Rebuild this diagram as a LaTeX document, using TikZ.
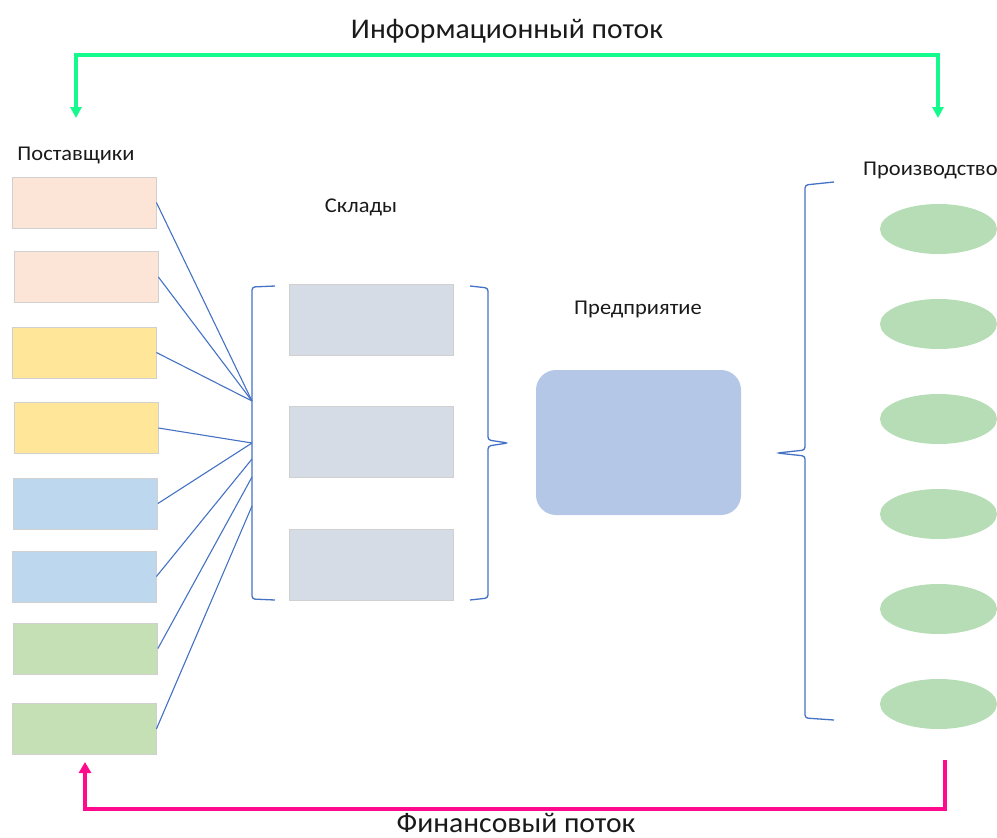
\documentclass[tikz,border=0pt]{standalone}
\usepackage{fontspec}
\setmainfont{Carlito}
\newfontfamily\lblfont[FakeStretch=1.07]{Carlito}
\newfontfamily\bigfont[FakeStretch=1.04]{Carlito}
\usetikzlibrary{arrows.meta,shapes.geometric}
\definecolor{peach}{HTML}{FCE4D6}
\definecolor{yel}{HTML}{FFE699}
\definecolor{lblue}{HTML}{BDD7EE}
\definecolor{lgreen}{HTML}{C5E0B4}
\definecolor{wgray}{HTML}{D6DCE5}
\definecolor{ent}{HTML}{B4C7E7}
\definecolor{prod}{HTML}{B6DDB6}
\definecolor{edge}{HTML}{D0D0D0}
\definecolor{lineblue}{HTML}{4472C4}
\definecolor{infog}{HTML}{14FA8C}
\definecolor{finp}{HTML}{FF0A8C}
\definecolor{txt}{HTML}{1A1A1A}
\tikzset{
  supbox/.style={draw=edge,line width=0.8pt,minimum width=144pt,minimum height=51pt,inner sep=0pt},
  whbox/.style={draw=edge,line width=0.8pt,fill=wgray,minimum width=164pt,minimum height=71pt,inner sep=0pt},
  entbox/.style={fill=ent,rounded corners=20pt,minimum width=205pt,minimum height=145pt,inner sep=0pt},
  prodell/.style={ellipse,fill=prod,minimum width=117pt,minimum height=50pt,inner sep=0pt},
  link/.style={draw=lineblue,line width=1.1pt},
  brace/.style={draw=lineblue,line width=1.3pt,rounded corners=3pt},
  lbl/.style={text=txt,font=\lblfont\fontsize{21}{24}\selectfont,inner sep=0pt,anchor=base},
  big/.style={text=txt,font=\bigfont\fontsize{28.5}{32}\selectfont,inner sep=0pt,anchor=base},
  flow/.style={line width=4pt,line join=miter}
}
\begin{document}
\begin{tikzpicture}[x=1pt,y=-1pt]
\useasboundingbox (0,0) rectangle (997,838);
% titles
\node[big] (info) at (507,38) {Информационный поток};
\node[big] (fin) at (516,832) {Финансовый поток};
% labels
\node[lbl] (lsup) at (76,160) {Поставщики};
\node[lbl] (lwh) at (361,212) {Склады};
\node[lbl] (lent) at (638,314) {Предприятие};
\node[lbl,anchor=base west] (lprod) at (863,175) {Производство};
% suppliers
\node[supbox,fill=peach] (s1) at (84,202.5) {};
\node[supbox,fill=peach] (s2) at (86,277) {};
\node[supbox,fill=yel] (s3) at (84,352.5) {};
\node[supbox,fill=yel] (s4) at (86,428) {};
\node[supbox,fill=lblue] (s5) at (85.5,503.5) {};
\node[supbox,fill=lblue] (s6) at (84,576.5) {};
\node[supbox,fill=lgreen] (s7) at (85.5,648.5) {};
\node[supbox,fill=lgreen] (s8) at (84,729) {};
% warehouses
\node[whbox] (w1) at (371,320) {};
\node[whbox] (w2) at (371,442) {};
\node[whbox] (w3) at (371,565) {};
% enterprise
\node[entbox] (e) at (638.5,442.5) {};
% production
\node[prodell] (p1) at (938.5,229) {};
\node[prodell] (p2) at (938.5,324) {};
\node[prodell] (p3) at (938.5,419) {};
\node[prodell] (p4) at (938.5,514) {};
\node[prodell] (p5) at (938.5,609) {};
\node[prodell] (p6) at (938.5,704) {};
% bracket points
\coordinate (j1) at (252,401);
\coordinate (j2) at (252,443);
\coordinate (j3) at (252,459);
\coordinate (j4) at (252,477);
\coordinate (j5) at (252,506);
% left bracket of warehouses
\draw[brace] (275,286) -- (252,287) -- (252,599) -- (275,600);
% right brace of warehouses
\draw[brace] (470,286) -- (488,288) -- (488,440) -- (508,443) -- (488,446) -- (488,598) -- (470,600);
% production brace
\draw[brace] (834,182) -- (805,185) -- (805,450) -- (777,453) -- (805,456) -- (805,718) -- (834,720);
% links
\draw[link] (s1.east) -- (j1);
\draw[link] (s2.east) -- (j1);
\draw[link] (s3.east) -- (j1);
\draw[link] (s4.east) -- (j2);
\draw[link] (s5.east) -- (j2);
\draw[link] (s6.east) -- (j3);
\draw[link] (s7.east) -- (j4);
\draw[link] (s8.east) -- (j5);
% information flow
\coordinate (ga) at (76,118);
\coordinate (gb) at (938,118);
\coordinate (gtop) at (0,55);
\draw[flow,draw=infog,{Triangle[width=11pt,length=11pt]}-{Triangle[width=11pt,length=11pt]}] (ga) -- (ga|-gtop) -- (gb|-gtop) -- (gb);
% financial flow
\coordinate (fa) at (945,760);
\coordinate (fb) at (85,762);
\coordinate (fbot) at (0,809);
\draw[flow,draw=finp,-{Triangle[width=12pt,length=11pt]}] (fa) -- (fa|-fbot) -- (fb|-fbot) -- (fb);
\end{tikzpicture}
\end{document}
